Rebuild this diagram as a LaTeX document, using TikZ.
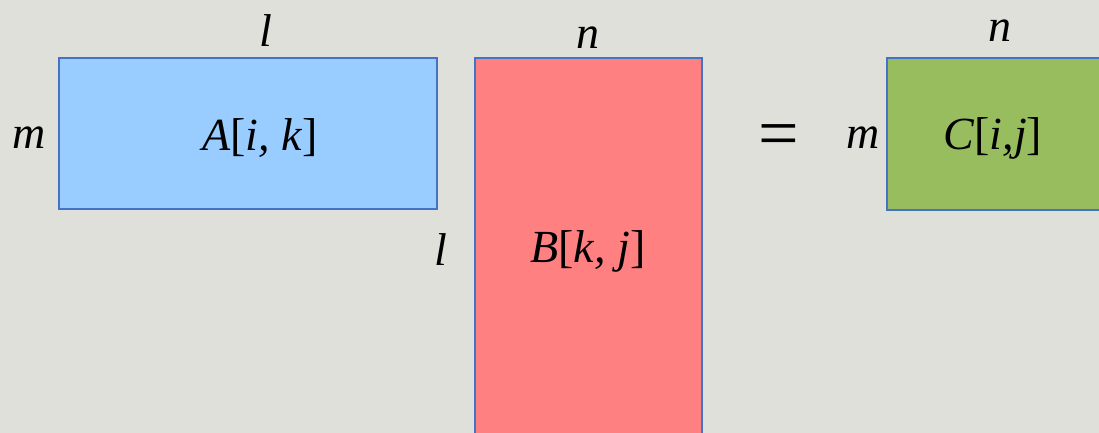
\documentclass[tikz,border=0pt]{standalone}
\usepackage{fontspec}
\setmainfont{Liberation Serif}
\definecolor{bgc}{HTML}{E0E0DA}
\definecolor{afill}{HTML}{99CCFF}
\definecolor{bfill}{HTML}{FF8080}
\definecolor{cfill}{HTML}{97BD5E}
\definecolor{edge}{HTML}{4472C4}
\begin{document}
\begin{tikzpicture}[x=1pt,y=-1pt,
  mat/.style={draw=edge,line width=1.2pt},
  lab/.style={inner sep=0pt,font=\fontsize{46}{50}\selectfont\itshape}]
\useasboundingbox (0,0) rectangle (1099,433);
\fill[bgc] (0,0) rectangle (1099,433);
\filldraw[mat,fill=afill] (59,58) rectangle (437,209);
\filldraw[mat,fill=bfill] (475,58) rectangle (702,440);
\filldraw[mat,fill=cfill] (887,58) rectangle (1105,210);
\node[lab] (lA) at (266,31) {l};
\node[lab] (nB) at (588,38) {n};
\node[lab] (nC) at (1000,31) {n};
\node[lab] (mA) at (29,138) {m};
\node[lab] (tA) at (260,138) {A\upshape[\itshape i, k\upshape]};
\node[lab] (lB) at (441,250) {l};
\node[lab] (tB) at (588,251) {B\upshape[\itshape k, j\upshape]};
\node[lab,font=\fontsize{72}{76}\selectfont] (eq) at (779,141) {=};
\node[lab] (mC) at (863,138) {m};
\node[lab] (tC) at (993,138) {C\upshape[\itshape i,j\upshape]};
\end{tikzpicture}
\end{document}
